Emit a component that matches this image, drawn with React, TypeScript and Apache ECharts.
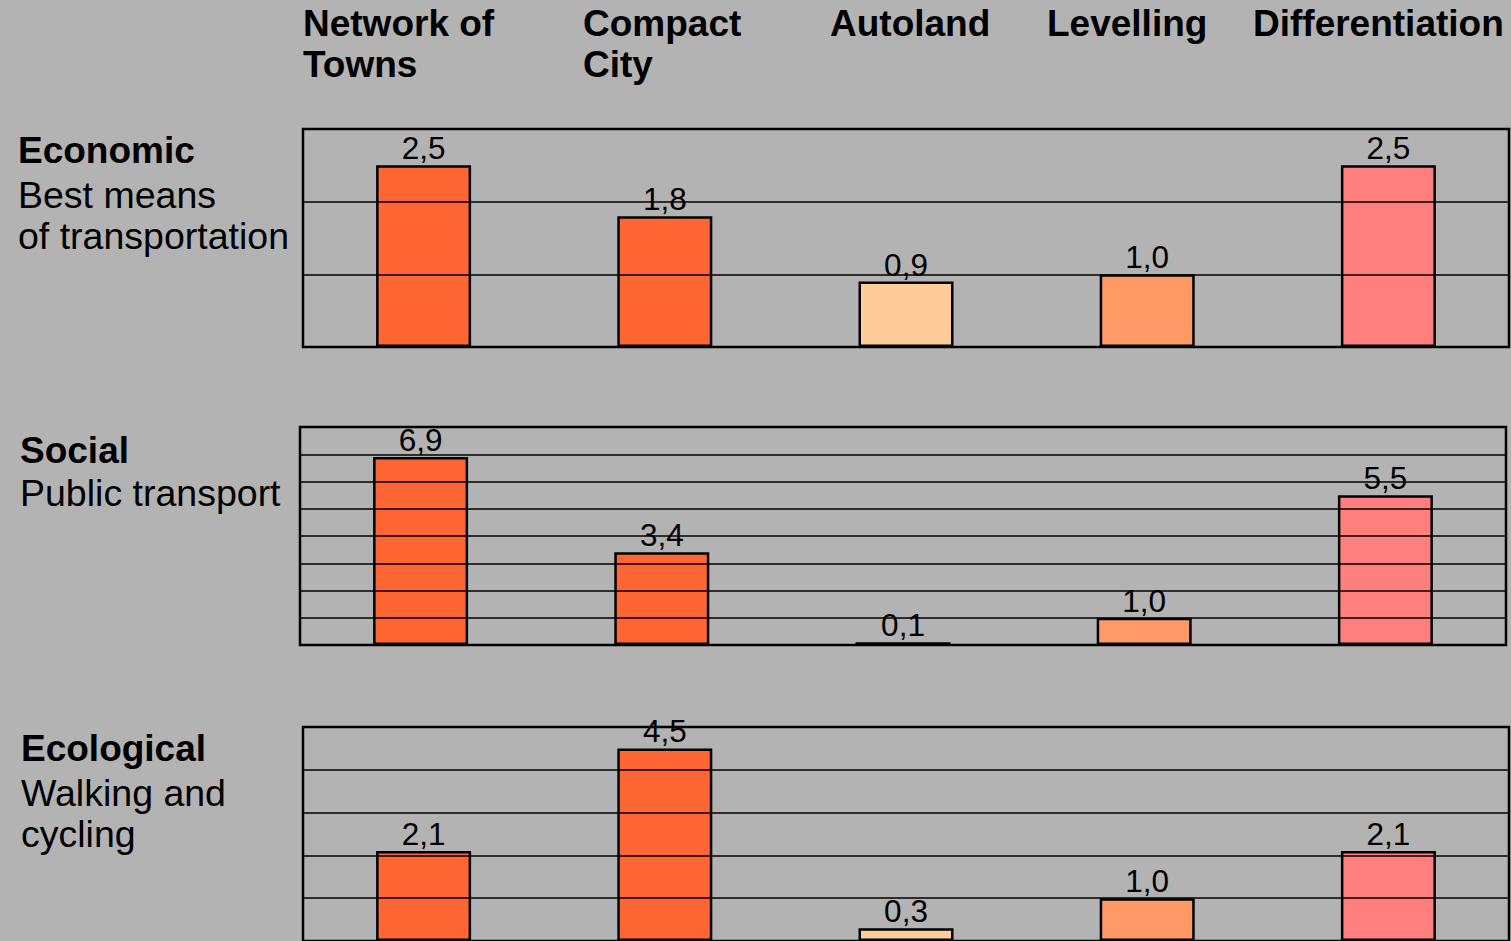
import React, { useEffect, useRef } from "react";
import * as echarts from "echarts";

// Scenario columns
const categories = ["Network of Towns", "Compact City", "Autoland", "Levelling", "Differentiation"];
const headerLines = [["Network of", "Towns"], ["Compact", "City"], ["Autoland"], ["Levelling"], ["Differentiation"]];
const barColors = ["#ff6633", "#ff6633", "#ffcc99", "#ff9966", "#ff7f7f"];

// Values per dimension
const economicValues = [2.5, 1.8, 0.9, 1.0, 2.5];
const socialValues = [6.9, 3.4, 0.1, 1.0, 5.5];
const ecologicalValues = [2.1, 4.5, 0.3, 1.0, 2.1];

const panelMax = [3, 8, 5];
const panelTitles = ["Economic", "Social", "Ecological"];
const panelSubtitles = [["Best means", "of transportation"], ["Public transport"], ["Walking and", "cycling"]];

const FONT = "'Liberation Sans', Arial, sans-serif";

// Panel frames
const gridBoxes = [
  { left: 303, top: 129, width: 1206, height: 218 },
  { left: 300, top: 427, width: 1206, height: 218 },
  { left: 303, top: 727, width: 1206, height: 219 },
];
const headerX = [303, 583, 830, 1047, 1253];
const headerY = [23, 64];
const sideText = [
  { x: 18, ys: [150.5, 195, 236] },
  { x: 20, ys: [450, 493] },
  { x: 21, ys: [748.5, 792.5, 834] },
];

export default function App() {
  const ref = useRef<HTMLDivElement | null>(null);

  useEffect(() => {
    if (!ref.current) return;
    const chart = echarts.init(ref.current, undefined, { renderer: "svg" });
    const panels = [economicValues, socialValues, ecologicalValues];

    const textGraphics: any[] = [];
    headerLines.forEach((lines, i) => {
      lines.forEach((line, k) => {
        textGraphics.push({
          type: "text",
          x: headerX[i],
          y: headerY[k],
          style: {
            text: line,
            font: `bold 37px ${FONT}`,
            fill: "#000",
            align: "left",
            verticalAlign: "middle",
          },
        });
      });
    });
    panelTitles.forEach((title, i) => {
      const pos = sideText[i];
      [title, ...panelSubtitles[i]].forEach((line, k) => {
        textGraphics.push({
          type: "text",
          x: pos.x,
          y: pos.ys[k],
          style: {
            text: line,
            font: k === 0 ? `bold 37px ${FONT}` : `37.5px ${FONT}`,
            fill: "#000",
            align: "left",
            verticalAlign: "middle",
          },
        });
      });
    });

    chart.setOption({
      animation: false,
      backgroundColor: "#b3b3b3",
      grid: gridBoxes.map((g) => ({
        ...g,
        show: true,
        backgroundColor: "transparent",
        borderColor: "#000",
        borderWidth: 2.5,
        containLabel: false,
      })),
      xAxis: panels.map((_, i) => ({
        type: "category",
        gridIndex: i,
        data: categories,
        axisLine: { show: false },
        axisTick: { show: false },
        axisLabel: { show: false },
        splitLine: { show: false },
      })),
      // value axes sit above the bars so their unit rules cross them
      yAxis: panels.map((_, i) => ({
        type: "value",
        gridIndex: i,
        min: 0,
        max: panelMax[i],
        interval: 1,
        z: 5,
        axisLine: { show: false },
        axisTick: { show: false },
        axisLabel: { show: false },
        splitLine: { show: true, lineStyle: { color: "#000", width: 1.5 } },
      })),
      series: panels.map((values, i) => ({
        type: "bar",
        name: panelTitles[i],
        xAxisIndex: i,
        yAxisIndex: i,
        barWidth: 95,
        data: values.map((v, j) => ({ value: v, itemStyle: { color: barColors[j] } })),
        itemStyle: { borderColor: "#000", borderWidth: 2.5 },
        label: {
          show: true,
          position: "top",
          distance: 1,
          color: "#000",
          fontSize: 31.5,
          fontFamily: FONT,
          formatter: (p: any) => Number(p.value).toFixed(1).replace(".", ","),
        },
      })),
      graphic: textGraphics,
    });

    return () => chart.dispose();
  }, []);

  return (
    <div
      ref={ref}
      style={{ position: "absolute", left: 0, top: 0, width: 1511, height: 941 }}
    />
  );
}
